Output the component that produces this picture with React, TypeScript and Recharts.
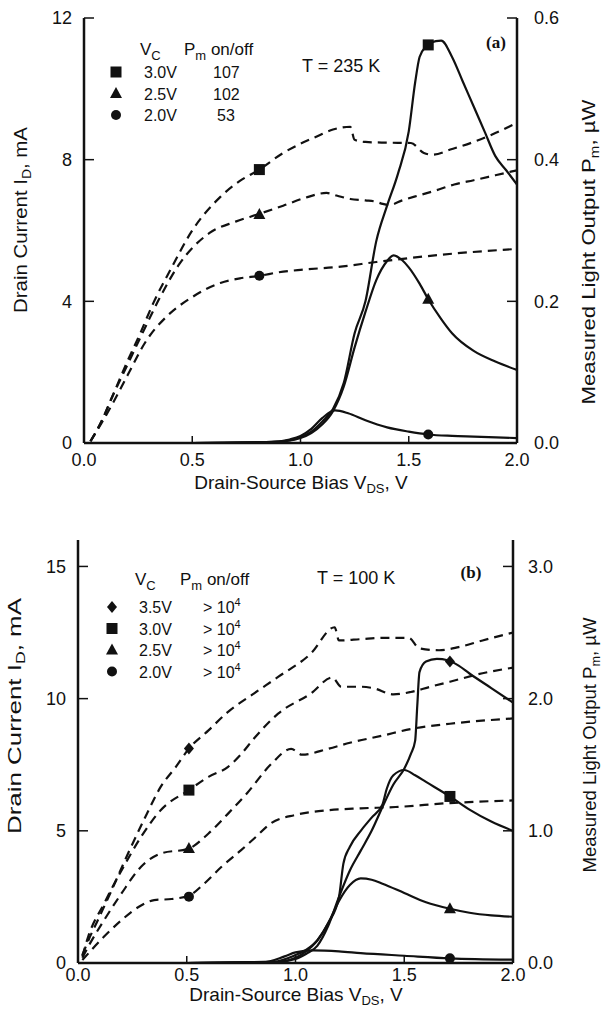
import React from "react"
import { ComposedChart, Line, Scatter, XAxis, YAxis } from "recharts"

const INK = "#111"
const SANS = "'Liberation Sans', Arial, Helvetica, sans-serif"
const SERIF = "'Liberation Serif', 'Times New Roman', serif"

type Pt = [number, number]

// ---- (a) T = 235 K ----
// drain current I_D (mA) vs V_DS (V), dashed curves
const a30Id: Pt[] = [[0.03, 0.05], [0.08, 0.6], [0.13, 1.3], [0.2, 2.3], [0.26, 3.1], [0.32, 3.95], [0.4, 4.9], [0.5, 6.0], [0.63, 6.95], [0.72, 7.4], [0.81, 7.72], [0.92, 8.19], [1.0, 8.45], [1.07, 8.64], [1.15, 8.85], [1.23, 8.93], [1.25, 8.56], [1.3, 8.5], [1.4, 8.48], [1.51, 8.47], [1.57, 8.19], [1.61, 8.14], [1.7, 8.3], [1.8, 8.5], [1.9, 8.75], [2.0, 9.04]]
const a25Id: Pt[] = [[0.03, 0.05], [0.08, 0.6], [0.13, 1.3], [0.2, 2.2], [0.27, 3.1], [0.35, 4.1], [0.44, 5.05], [0.58, 5.93], [0.7, 6.25], [0.81, 6.47], [0.92, 6.7], [1.02, 6.92], [1.12, 7.06], [1.17, 6.98], [1.23, 6.89], [1.3, 6.85], [1.35, 6.81], [1.38, 6.75], [1.41, 6.72], [1.47, 6.85], [1.54, 6.98], [1.62, 7.12], [1.71, 7.3], [1.8, 7.42], [1.9, 7.56], [2.0, 7.7]]
const a20Id: Pt[] = [[0.03, 0.05], [0.08, 0.55], [0.14, 1.2], [0.2, 1.9], [0.29, 2.91], [0.38, 3.56], [0.5, 4.12], [0.63, 4.52], [0.72, 4.65], [0.81, 4.72], [0.9, 4.82], [1.0, 4.89], [1.17, 4.97], [1.35, 5.11], [1.5, 5.22], [1.71, 5.35], [2.0, 5.48]]
// measured light output P_m (uW), solid curves
const a30P: Pt[] = [[0, 0], [0.5, 0], [0.9, 0.002], [1.0, 0.008], [1.05, 0.016], [1.1, 0.03], [1.15, 0.048], [1.2, 0.085], [1.25, 0.155], [1.3, 0.2], [1.35, 0.285], [1.4, 0.335], [1.45, 0.38], [1.5, 0.44], [1.53, 0.51], [1.55, 0.545], [1.58, 0.56], [1.6, 0.565], [1.65, 0.568], [1.7, 0.545], [1.75, 0.51], [1.8, 0.475], [1.85, 0.44], [1.9, 0.405], [1.95, 0.385], [2.0, 0.365]]
const a25P: Pt[] = [[0, 0], [0.5, 0], [0.9, 0.002], [1.0, 0.007], [1.05, 0.014], [1.1, 0.026], [1.15, 0.045], [1.2, 0.08], [1.25, 0.135], [1.3, 0.185], [1.35, 0.23], [1.4, 0.257], [1.43, 0.265], [1.47, 0.258], [1.5, 0.248], [1.55, 0.225], [1.59, 0.203], [1.65, 0.175], [1.7, 0.155], [1.8, 0.13], [1.9, 0.115], [2.0, 0.103]]
const a20P: Pt[] = [[0, 0], [0.5, 0], [0.85, 0.001], [0.95, 0.005], [1.0, 0.01], [1.05, 0.02], [1.1, 0.035], [1.16, 0.046], [1.22, 0.042], [1.3, 0.032], [1.4, 0.022], [1.5, 0.016], [1.59, 0.012], [1.7, 0.01], [1.8, 0.009], [2.0, 0.007]]
const aIdMarks: Pt[] = [[0.81, 7.72], [0.81, 6.45], [0.81, 4.72]]
const aPMarks: Pt[] = [[1.59, 0.562], [1.59, 0.203], [1.59, 0.012]]
const aKinds = ["square", "triangle", "circle"]
const aVc = ["3.0V", "2.5V", "2.0V"]
const aOnOff = ["107", "102", "53"]

// ---- (b) T = 100 K ----
const b35Id: Pt[] = [[0.02, 0.3], [0.05, 0.9], [0.09, 1.6], [0.155, 2.76], [0.23, 4.14], [0.31, 5.53], [0.38, 6.66], [0.45, 7.42], [0.51, 8.11], [0.6, 8.8], [0.69, 9.5], [0.81, 10.2], [0.92, 10.82], [1.07, 11.7], [1.18, 12.7], [1.2, 12.2], [1.3, 12.25], [1.4, 12.3], [1.52, 12.3], [1.57, 11.9], [1.66, 11.83], [1.75, 11.95], [1.86, 12.2], [2.0, 12.5]]
const b30Id: Pt[] = [[0.02, 0.25], [0.047, 1.0], [0.12, 2.25], [0.2, 3.5], [0.29, 4.77], [0.38, 5.78], [0.51, 6.54], [0.6, 7.04], [0.69, 7.42], [0.75, 7.9], [0.81, 8.5], [0.92, 9.43], [1.07, 10.19], [1.17, 10.8], [1.21, 10.45], [1.3, 10.45], [1.36, 10.39], [1.45, 10.16], [1.53, 10.25], [1.62, 10.45], [1.71, 10.64], [1.86, 10.96], [2.0, 11.17]]
const b25Id: Pt[] = [[0.02, 0.2], [0.047, 0.62], [0.12, 1.62], [0.2, 2.63], [0.29, 3.64], [0.38, 4.14], [0.51, 4.33], [0.6, 4.9], [0.69, 5.65], [0.78, 6.45], [0.89, 7.54], [0.98, 8.1], [1.03, 7.88], [1.15, 8.1], [1.25, 8.33], [1.4, 8.6], [1.53, 8.85], [1.71, 9.05], [2.0, 9.25]]
const b20Id: Pt[] = [[0.02, 0.11], [0.12, 1.0], [0.2, 1.62], [0.28, 2.13], [0.35, 2.38], [0.43, 2.42], [0.51, 2.55], [0.58, 3.0], [0.66, 3.64], [0.75, 4.27], [0.81, 4.71], [0.89, 5.3], [1.0, 5.6], [1.15, 5.78], [1.3, 5.85], [1.46, 5.9], [1.71, 6.05], [2.0, 6.15]]
const b35P: Pt[] = [[0, 0], [0.5, 0], [0.9, 0.005], [1.0, 0.03], [1.05, 0.07], [1.1, 0.13], [1.15, 0.28], [1.2, 0.5], [1.25, 0.7], [1.3, 0.85], [1.35, 1.0], [1.4, 1.18], [1.45, 1.35], [1.5, 1.47], [1.53, 1.58], [1.55, 1.68], [1.56, 1.95], [1.57, 2.2], [1.6, 2.28], [1.65, 2.3], [1.7, 2.29], [1.75, 2.25], [1.8, 2.19], [1.9, 2.08], [2.0, 1.97]]
const b30P: Pt[] = [[0, 0], [0.5, 0], [0.9, 0.005], [1.0, 0.04], [1.05, 0.09], [1.1, 0.17], [1.15, 0.3], [1.2, 0.5], [1.22, 0.75], [1.25, 0.88], [1.3, 1.0], [1.35, 1.1], [1.4, 1.2], [1.42, 1.32], [1.45, 1.42], [1.5, 1.46], [1.55, 1.42], [1.6, 1.37], [1.71, 1.26], [1.8, 1.16], [1.9, 1.07], [2.0, 1.0]]
const b25P: Pt[] = [[0, 0], [0.5, 0], [0.9, 0.01], [1.0, 0.06], [1.05, 0.1], [1.1, 0.17], [1.15, 0.3], [1.2, 0.47], [1.25, 0.59], [1.3, 0.64], [1.35, 0.63], [1.4, 0.6], [1.5, 0.53], [1.6, 0.46], [1.71, 0.41], [1.8, 0.38], [1.9, 0.36], [2.0, 0.35]]
const b20P: Pt[] = [[0, 0], [0.5, 0], [0.85, 0.005], [0.95, 0.05], [1.0, 0.08], [1.08, 0.095], [1.2, 0.088], [1.3, 0.075], [1.5, 0.055], [1.71, 0.035], [2.0, 0.025]]
const bIdMarks: Pt[] = [[0.51, 8.11], [0.51, 6.54], [0.51, 4.33], [0.51, 2.51]]
const bPMarks: Pt[] = [[1.71, 2.28], [1.71, 1.26], [1.71, 0.41], [1.71, 0.035]]
const bKinds = ["diamond", "square", "triangle", "circle"]
const bVc = ["3.5V", "3.0V", "2.5V", "2.0V"]

const vTicks = [0, 0.5, 1, 1.5, 2]
const aIdTicks = [0, 4, 8, 12]
const aPTicks = [0, 0.2, 0.4, 0.6]
const bIdTicks = [0, 5, 10, 15]
const bPTicks = [0, 1, 2, 3]

const rows = (pts: Pt[]) => pts.map(([v, y]) => ({ v, y }))

function Marker({ cx, cy, kind }: { cx?: number; cy?: number; kind: string }) {
  if (cx == null || cy == null) return null
  if (kind === "square") return <rect x={cx - 5.5} y={cy - 5.5} width={11} height={11} fill={INK} />
  if (kind === "triangle")
    return <polygon points={`${cx},${cy - 6.5} ${cx + 6},${cy + 4.5} ${cx - 6},${cy + 4.5}`} fill={INK} />
  if (kind === "diamond")
    return <polygon points={`${cx},${cy - 6} ${cx + 5},${cy} ${cx},${cy + 6} ${cx - 5},${cy}`} fill={INK} />
  return <circle cx={cx} cy={cy} r={5} fill={INK} />
}

const fmt1 = (v: number) => v.toFixed(1)

function Panel({
  height,
  margin,
  idSeries,
  pSeries,
  idMarks,
  pMarks,
  kinds,
  idMax,
  idTicks,
  pMax,
  pTicks,
  gaps,
}: {
  height: number
  margin: { top: number; right: number; bottom: number; left: number }
  idSeries: Pt[][]
  pSeries: Pt[][]
  idMarks: Pt[]
  pMarks: Pt[]
  kinds: string[]
  idMax: number
  idTicks: number[]
  pMax: number
  pTicks: number[]
  gaps: { left: number; right: number; bottom: number }
}) {
  const tickText = { fontFamily: SANS, fontSize: 18, fill: INK }
  const leftTick = (p: any) => (
    <g>
      <line x1={p.x + gaps.left} x2={p.x + gaps.left + 10} y1={p.y} y2={p.y} stroke={INK} strokeWidth={1.5} />
      <text x={p.x} y={p.y} dy="0.36em" textAnchor="end" {...tickText}>
        {p.payload.value}
      </text>
    </g>
  )
  const rightTick = (p: any) => (
    <g>
      <line x1={p.x - gaps.right} x2={p.x - gaps.right - 10} y1={p.y} y2={p.y} stroke={INK} strokeWidth={1.5} />
      <text x={p.x} y={p.y} dy="0.36em" textAnchor="start" {...tickText}>
        {fmt1(p.payload.value)}
      </text>
    </g>
  )
  const bottomTick = (p: any) => (
    <g>
      <line x1={p.x} x2={p.x} y1={p.y - gaps.bottom} y2={p.y - gaps.bottom - 7} stroke={INK} strokeWidth={1.5} />
      <text x={p.x} y={p.y} dy="0.71em" textAnchor="middle" {...tickText}>
        {fmt1(p.payload.value)}
      </text>
    </g>
  )
  const topTick = (p: any) => <line x1={p.x} x2={p.x} y1={p.y} y2={p.y + 12} stroke={INK} strokeWidth={1.5} />

  const frame = { stroke: INK, strokeWidth: 2.5 }
  return (
    <ComposedChart width={604} height={height} margin={margin}>
      <XAxis
        dataKey="v"
        type="number"
        domain={[0, 2]}
        ticks={vTicks}
        interval={0}
        height={30}
        tickSize={0}
        tickMargin={gaps.bottom}
        tickLine={false}
        axisLine={frame}
        tick={bottomTick}
        allowDataOverflow
      />
      <XAxis
        xAxisId="top"
        orientation="top"
        dataKey="v"
        type="number"
        domain={[0, 2]}
        ticks={[0.5, 1, 1.5]}
        interval={0}
        height={0}
        tickSize={0}
        tickMargin={0}
        tickLine={false}
        axisLine={frame}
        tick={topTick}
      />
      <YAxis
        yAxisId="id"
        type="number"
        domain={[0, idMax]}
        ticks={idTicks}
        interval={0}
        width={30}
        tickSize={0}
        tickMargin={gaps.left}
        tickLine={false}
        axisLine={frame}
        tick={leftTick}
        allowDataOverflow
      />
      <YAxis
        yAxisId="p"
        orientation="right"
        type="number"
        domain={[0, pMax]}
        ticks={pTicks}
        interval={0}
        width={30}
        tickSize={0}
        tickMargin={gaps.right}
        tickLine={false}
        axisLine={frame}
        tick={rightTick}
        allowDataOverflow
      />
      {idSeries.map((s, i) => (
        <Line
          key={"id" + i}
          yAxisId="id"
          data={rows(s)}
          dataKey="y"
          type="monotone"
          stroke={INK}
          strokeWidth={2.2}
          strokeDasharray="9 6"
          dot={false}
          activeDot={false}
          isAnimationActive={false}
        />
      ))}
      {pSeries.map((s, i) => (
        <Line
          key={"p" + i}
          yAxisId="p"
          data={rows(s)}
          dataKey="y"
          type="monotone"
          stroke={INK}
          strokeWidth={2.2}
          dot={false}
          activeDot={false}
          isAnimationActive={false}
        />
      ))}
      {idMarks.map((m, i) => (
        <Scatter
          key={"mi" + i}
          yAxisId="id"
          data={rows([m])}
          dataKey="y"
          isAnimationActive={false}
          shape={(p: any) => <Marker cx={p.cx} cy={p.cy} kind={kinds[i]} />}
        />
      ))}
      {pMarks.map((m, i) => (
        <Scatter
          key={"mp" + i}
          yAxisId="p"
          data={rows([m])}
          dataKey="y"
          isAnimationActive={false}
          shape={(p: any) => <Marker cx={p.cx} cy={p.cy} kind={kinds[i]} />}
        />
      ))}
    </ComposedChart>
  )
}

function Overlay() {
  const t = { fontFamily: SANS, fill: INK }
  return (
    <svg width={604} height={1019} style={{ position: "absolute", left: 0, top: 0, pointerEvents: "none" }}>
      {/* (a) axis titles */}
      <text x={301} y={489} textAnchor="middle" fontSize={19} {...t}>
        Drain-Source Bias V<tspan fontSize={13} dy={4}>DS</tspan>
        <tspan dy={-4}>, V</tspan>
      </text>
      <g transform="translate(20,220) rotate(-90)">
        <text x={0} y={7} textAnchor="middle" fontSize={19} textLength={186} lengthAdjust="spacingAndGlyphs" {...t}>
          Drain Current I<tspan fontSize={13} dy={4}>D</tspan>
          <tspan dy={-4}>, mA</tspan>
        </text>
      </g>
      <g transform="translate(588,252) rotate(-90)">
        <text x={0} y={7} textAnchor="middle" fontSize={19} textLength={305} lengthAdjust="spacingAndGlyphs" {...t}>
          Measured Light Output P<tspan fontSize={13} dy={4}>m</tspan>
          <tspan dy={-4}>, µW</tspan>
        </text>
      </g>
      {/* (a) legend */}
      <text x={140} y={55} fontSize={17} {...t}>
        V<tspan fontSize={13} dy={5}>C</tspan>
      </text>
      <text x={184} y={55} fontSize={17} {...t}>
        P<tspan fontSize={13} dy={5}>m</tspan>
        <tspan dy={-5}> on/off</tspan>
      </text>
      {aVc.map((v, i) => (
        <g key={v}>
          <Marker cx={116} cy={72 + i * 21.5} kind={aKinds[i]} />
          <text x={144} y={78 + i * 21.5} fontSize={16} {...t}>
            {v}
          </text>
          <text x={i === 2 ? 217 : 213} y={78 + i * 21.5} fontSize={16} {...t}>
            {aOnOff[i]}
          </text>
        </g>
      ))}
      <text x={302} y={72} fontSize={18} {...t}>
        T = 235 K
      </text>
      <text x={496} y={48} textAnchor="middle" fontSize={17} fontWeight="bold" fontFamily={SERIF} fill={INK}>
        (a)
      </text>

      {/* (b) axis titles */}
      <text x={296} y={1001} textAnchor="middle" fontSize={19} {...t}>
        Drain-Source Bias V<tspan fontSize={13} dy={4}>DS</tspan>
        <tspan dy={-4}>, V</tspan>
      </text>
      <g transform="translate(14,716) rotate(-90)">
        <text x={0} y={7} textAnchor="middle" fontSize={19} textLength={236} lengthAdjust="spacingAndGlyphs" {...t}>
          Drain Current I<tspan fontSize={13} dy={4}>D</tspan>
          <tspan dy={-4}>, mA</tspan>
        </text>
      </g>
      <g transform="translate(589,745) rotate(-90)">
        <text x={0} y={7} textAnchor="middle" fontSize={19} textLength={255} lengthAdjust="spacingAndGlyphs" {...t}>
          Measured Light Output P<tspan fontSize={13} dy={4}>m</tspan>
          <tspan dy={-4}>, µW</tspan>
        </text>
      </g>
      {/* (b) legend */}
      <text x={135} y={585} fontSize={17} {...t}>
        V<tspan fontSize={13} dy={5}>C</tspan>
      </text>
      <text x={180} y={585} fontSize={17} {...t}>
        P<tspan fontSize={13} dy={5}>m</tspan>
        <tspan dy={-5}> on/off</tspan>
      </text>
      {bVc.map((v, i) => (
        <g key={v}>
          <Marker cx={112} cy={607 + i * 21.5} kind={bKinds[i]} />
          <text x={139} y={613 + i * 21.5} fontSize={16} {...t}>
            {v}
          </text>
          <text x={203} y={613 + i * 21.5} fontSize={16} {...t}>
            {"> 10"}
            <tspan fontSize={11} dy={-7}>
              4
            </tspan>
          </text>
        </g>
      ))}
      <text x={317} y={584} fontSize={18} {...t}>
        T = 100 K
      </text>
      <text x={471} y={578} textAnchor="middle" fontSize={17} fontWeight="bold" fontFamily={SERIF} fill={INK}>
        (b)
      </text>
    </svg>
  )
}

export default function App() {
  return (
    <div style={{ position: "absolute", left: 0, top: 0, width: 604, height: 1019, background: "#fff" }}>
      <div style={{ position: "absolute", left: 0, top: 0 }}>
        <Panel
          height={500}
          margin={{ top: 18, right: 57, bottom: 27, left: 54 }}
          idSeries={[a30Id, a25Id, a20Id]}
          pSeries={[a30P, a25P, a20P]}
          idMarks={aIdMarks}
          pMarks={aPMarks}
          kinds={aKinds}
          idMax={12}
          idTicks={aIdTicks}
          pMax={0.6}
          pTicks={aPTicks}
          gaps={{ left: 12, right: 17, bottom: 10 }}
        />
      </div>
      <div style={{ position: "absolute", left: 0, top: 500 }}>
        <Panel
          height={519}
          margin={{ top: 40, right: 61, bottom: 26, left: 48 }}
          idSeries={[b35Id, b30Id, b25Id, b20Id]}
          pSeries={[b35P, b30P, b25P, b20P]}
          idMarks={bIdMarks}
          pMarks={bPMarks}
          kinds={bKinds}
          idMax={16}
          idTicks={bIdTicks}
          pMax={3.2}
          pTicks={bPTicks}
          gaps={{ left: 12, right: 15, bottom: 5 }}
        />
      </div>
      <Overlay />
    </div>
  )
}
